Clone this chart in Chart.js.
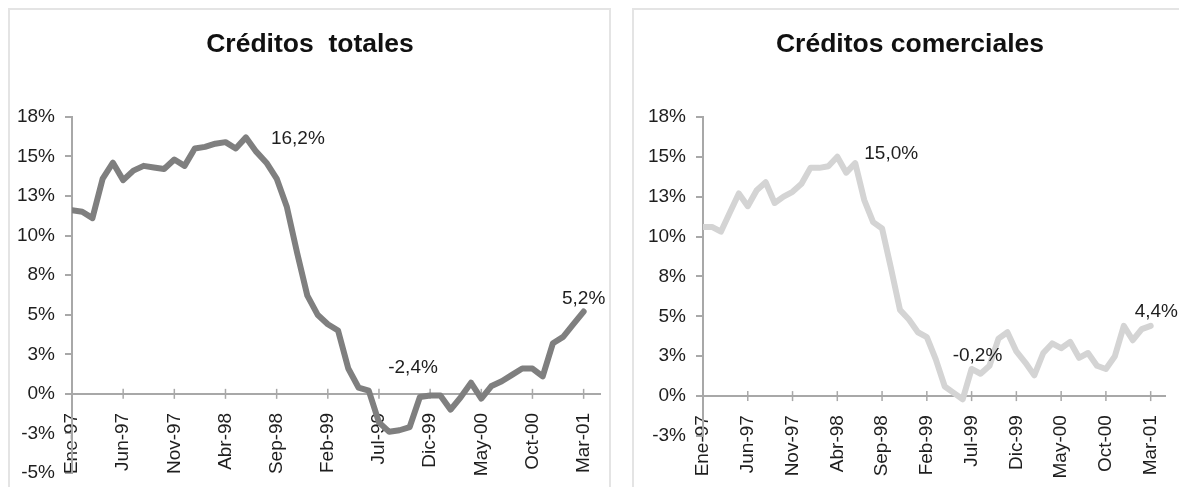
<!DOCTYPE html>
<html>
<head>
<meta charset="utf-8">
<script src="https://cdn.jsdelivr.net/npm/chart.js@4.4.1/dist/chart.umd.min.js"></script>
<style>
    body { margin: 0; background: #fff; width: 1179px; height: 487px; overflow: hidden; position: relative; }
    .panel { position: absolute; top: 8px; height: 492px; border: 2px solid #e4e4e4; box-sizing: border-box; }
    #p1 { left: 8px; width: 603px; }
    #p2 { left: 632px; width: 570px; }
    canvas { position: absolute; left: 0; top: 0; }
</style>
</head>
<body>
<div class="panel" id="p1"><canvas id="c1" width="599" height="477"></canvas></div>
<div class="panel" id="p2"><canvas id="c2" width="552" height="477"></canvas></div>
<script>
const months = [
    'Ene-97','Feb-97','Mar-97','Abr-97','May-97','Jun-97','Jul-97','Ago-97','Sep-97','Oct-97','Nov-97','Dic-97',
    'Ene-98','Feb-98','Mar-98','Abr-98','May-98','Jun-98','Jul-98','Ago-98','Sep-98','Oct-98','Nov-98','Dic-98',
    'Ene-99','Feb-99','Mar-99','Abr-99','May-99','Jun-99','Jul-99','Ago-99','Sep-99','Oct-99','Nov-99','Dic-99',
    'Ene-00','Feb-00','Mar-00','Abr-00','May-00','Jun-00','Jul-00','Ago-00','Sep-00','Oct-00','Nov-00','Dic-00',
    'Ene-01','Feb-01','Mar-01'
]

// variación anual, %
const totales = [
    11.6, 11.5, 11.1, 13.6, 14.6, 13.5, 14.1, 14.4, 14.3, 14.2,
    14.8, 14.4, 15.5, 15.6, 15.8, 15.9, 15.5, 16.2, 15.3, 14.6,
    13.6, 11.8, 8.9, 6.2, 5.0, 4.4, 4.0, 1.6, 0.4, 0.2,
    -1.8, -2.4, -2.3, -2.1, -0.2, -0.1, -0.1, -1.0, -0.2, 0.7,
    -0.3, 0.5, 0.8, 1.2, 1.6, 1.6, 1.1, 3.2, 3.6, 4.4,
    5.2
]
const comerciales = [
    10.6, 10.6, 10.3, 11.5, 12.7, 11.9, 12.9, 13.4, 12.1, 12.5,
    12.8, 13.3, 14.3, 14.3, 14.4, 15.0, 14.0, 14.6, 12.3, 10.9,
    10.5, 8.0, 5.4, 4.8, 4.0, 3.7, 2.3, 0.6, 0.2, -0.2,
    1.7, 1.4, 1.9, 3.6, 4.0, 2.8, 2.1, 1.3, 2.7, 3.3,
    3.0, 3.4, 2.4, 2.7, 1.9, 1.7, 2.5, 4.4, 3.5, 4.2,
    4.4
]

const totalesMarks     = [17, 31, 50]
const comercialesMarks = [15, 29, 50]

const AXIS_COLOR = '#a8a8a8'
const TEXT_COLOR = '#1e1e1e'

Chart.defaults.font.family = "'Liberation Sans', Arial, sans-serif"
Chart.defaults.color = TEXT_COLOR

const pct  = v => (v < 0 ? '-' : '') + Math.round(Math.abs(v)) + '%'
const fmt1 = v => v.toFixed(1).replace('.', ',') + '%'

// marcas que cruzan el eje en 0%
const crossTicks = {
    id: 'crossTicks',
    beforeDatasetsDraw(chart) {
        const { ctx, scales: { x, y } } = chart
        const y0 = y.getPixelForValue(0)
        ctx.save()
        ctx.strokeStyle = AXIS_COLOR
        ctx.lineWidth = 1.5
        x.ticks.forEach(t => {
            const px = x.getPixelForValue(t.value)
            ctx.beginPath()
            ctx.moveTo(px, y0 - 5)
            ctx.lineTo(px, y0 + 5)
            ctx.stroke()
        })
        ctx.restore()
    }
}

// las etiquetas del eje y pueden usar el margen izquierdo
const labelRoom = {
    id: 'labelRoom',
    afterLayout(chart) { chart.scales.y.left = 0 }
}

const valueLabels = {
    id: 'valueLabels',
    afterDatasetsDraw(chart, args, opts) {
        const { ctx, scales: { x, y } } = chart
        const pts = chart.data.datasets[0].data
        ctx.save()
        ctx.font = "19px 'Liberation Sans', Arial, sans-serif"
        ctx.fillStyle = TEXT_COLOR
        ctx.textBaseline = 'middle'
        opts.marks.forEach(m => {
            const p = pts[m.i]
            ctx.textAlign = m.align
            ctx.fillText(fmt1(p.y), x.getPixelForValue(p.x) + m.dx, y.getPixelForValue(p.y) + m.dy)
        })
        ctx.restore()
    }
}

function makeChart(id, cfg) {
    return new Chart(document.getElementById(id), {
        type: 'line',
        data: {
            datasets: [{
                data: cfg.values.map((v, i) => ({ x: i, y: v })),
                borderColor: cfg.color,
                borderWidth: 6,
                pointRadius: 0,
                tension: 0,
                borderCapStyle: 'round',
                borderJoinStyle: 'round'
            }]
        },
        options: {
            responsive: false,
            animation: false,
            devicePixelRatio: 1,
            layout: { padding: { left: cfg.padLeft, right: cfg.padRight, top: 0, bottom: cfg.padBottom } },
            plugins: {
                legend: { display: false },
                tooltip: { enabled: false },
                title: {
                    display: true,
                    text: cfg.title,
                    color: '#111',
                    font: { size: 26.5, weight: 'bold' },
                    padding: { top: 19, bottom: 56 }
                },
                valueLabels: { marks: cfg.marks }
            },
            scales: {
                x: {
                    type: 'linear',
                    position: { y: 0 },
                    min: 0,
                    max: 51.6,
                    afterFit: s => { s.paddingLeft = 0; s.paddingRight = 0 },
                    grid: { drawOnChartArea: false, drawTicks: false },
                    border: { color: AXIS_COLOR, width: 2 },
                    ticks: {
                        stepSize: 5,
                        includeBounds: false,
                        autoSkip: false,
                        minRotation: 90,
                        maxRotation: 90,
                        padding: 19,
                        font: { size: 19 },
                        callback: v => months[v] ?? ''
                    }
                },
                y: {
                    min: cfg.yMin,
                    max: 17.5,
                    afterFit: s => { s.width = cfg.axisWidth; s.paddingTop = 0; s.paddingBottom = 0 },
                    grid: { drawOnChartArea: false, tickLength: 7, color: AXIS_COLOR, lineWidth: 2 },
                    border: { color: AXIS_COLOR, width: 2 },
                    ticks: { stepSize: 2.5, padding: 10, font: { size: 19 }, callback: pct }
                }
            }
        },
        plugins: [crossTicks, labelRoom, valueLabels]
    })
}

makeChart('c1', {
    title: 'Créditos  totales',
    values: totales,
    color: '#7f7f7f',
    yMin: -5,
    padLeft: 10,
    axisWidth: 52,
    padRight: 9,
    padBottom: 14,
    marks: [
        { i: totalesMarks[0], dx: 25, dy: 1, align: 'left' },
        { i: totalesMarks[1], dx: -1, dy: -64, align: 'left' },
        { i: totalesMarks[2], dx: 0, dy: -13, align: 'center' }
    ]
})

makeChart('c2', {
    title: 'Créditos comerciales',
    values: comerciales,
    color: '#d4d4d4',
    yMin: -2.5,
    padLeft: 21,
    axisWidth: 48,
    padRight: 21,
    padBottom: 51,
    marks: [
        { i: comercialesMarks[0], dx: 27, dy: -3, align: 'left' },
        { i: comercialesMarks[1], dx: -10, dy: -44, align: 'left' },
        { i: comercialesMarks[2], dx: -16, dy: -14, align: 'left' }
    ]
})
</script>
</body>
</html>
